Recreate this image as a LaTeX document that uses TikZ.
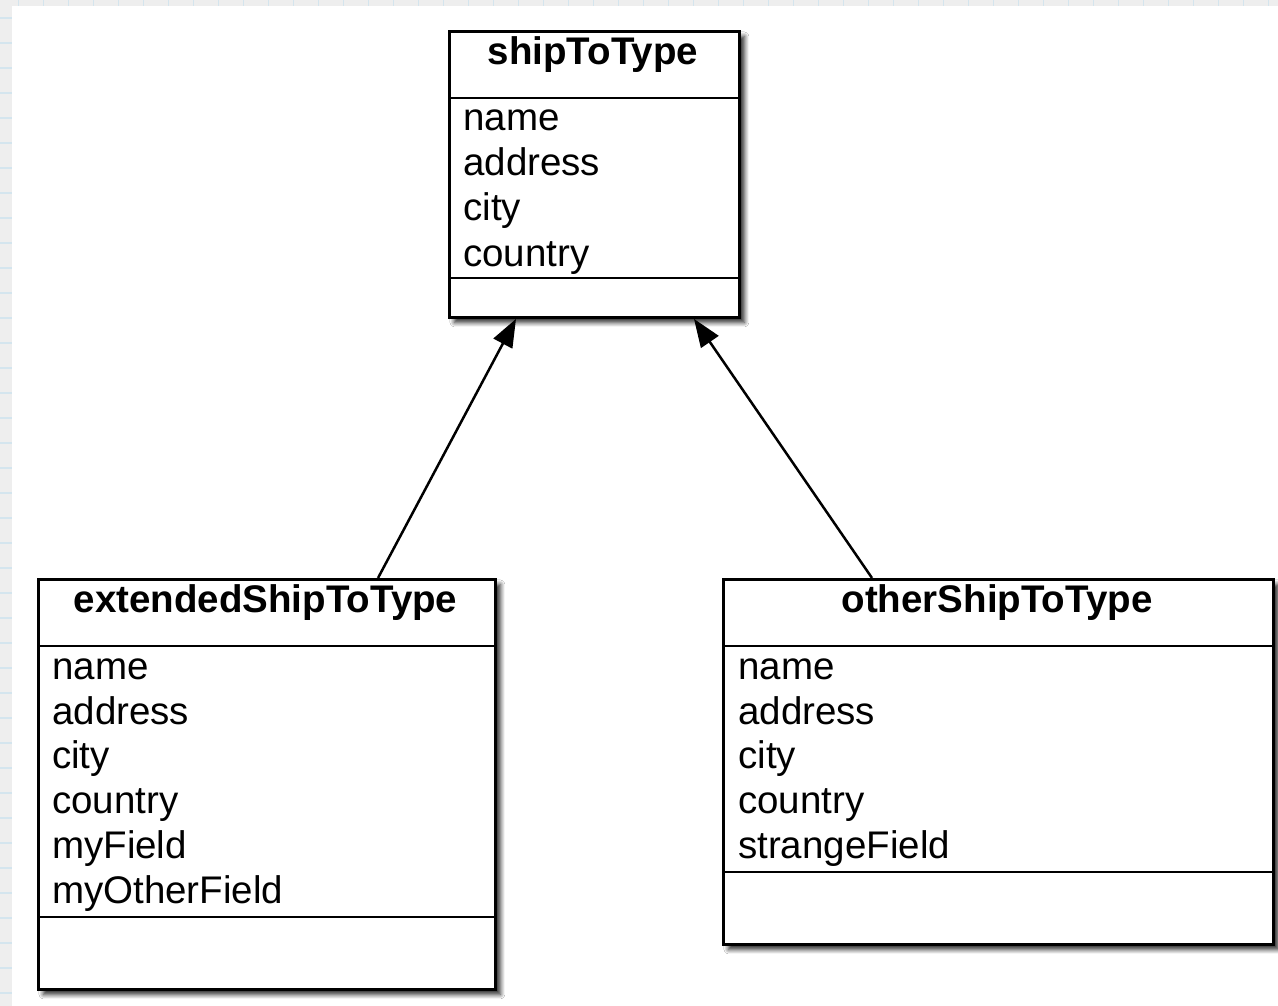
\documentclass[tikz,border=0pt]{standalone}
\usepackage{fontspec}
\setmainfont{Liberation Sans}
\usetikzlibrary{arrows.meta,shadows.blur}
\definecolor{pagebg}{HTML}{EEEEEE}
\definecolor{gridline}{HTML}{D4E5EE}

\begin{document}
\begin{tikzpicture}[x=1pt,y=-1pt,
  classbox/.style={draw=black,line width=2.9pt,fill=white,rectangle,inner sep=0pt,
    anchor=north west,
    blur shadow={shadow xshift=5pt,shadow yshift=-5pt,shadow blur radius=4.5pt,
      shadow blur steps=8,shadow opacity=85}},
  divider/.style={line width=2.3pt},
  classname/.style={font=\fontsize{38.5}{45}\selectfont\bfseries,anchor=base,inner sep=0pt},
  field/.style={font=\fontsize{38.5}{45}\selectfont,anchor=base west,inner sep=0pt},
  inherit/.style={line width=2.5pt,-{Triangle[length=28pt,width=21pt]}}]

% canvas with ruler strips along the top and left edges
\useasboundingbox (0,0) rectangle (1278,1006);
\fill[pagebg] (0,0) rectangle (1278,1006);
\foreach \x in {18.5,43.5,...,1278} \draw[gridline,line width=1.6pt] (\x,0) -- (\x,6);
\foreach \y in {18,43,...,1006} \draw[gridline,line width=1.6pt] (0,\y) -- (12,\y);
\fill[white] (12,6) rectangle (1278,1006);

% ---- shipToType ----
\node[classbox,minimum width=290pt,minimum height=286pt] (ship) at (448,30) {};
\draw[divider] ([yshift=-68pt]ship.north west) -- ([yshift=-68pt]ship.north east);
\draw[divider] ([yshift=-248pt]ship.north west) -- ([yshift=-248pt]ship.north east);
\node[classname] (ship-t) at (593,65) {shipToType};
\node[field] (ship-f1) at (463,131) {name};
\node[field] (ship-f2) at (463,176) {address};
\node[field] (ship-f3) at (463,221) {city};
\node[field] (ship-f4) at (463,266) {country};

% ---- extendedShipToType ----
\node[classbox,minimum width=457pt,minimum height=410pt] (ext) at (37,578) {};
\draw[divider] ([yshift=-68pt]ext.north west) -- ([yshift=-68pt]ext.north east);
\draw[divider] ([yshift=-339pt]ext.north west) -- ([yshift=-339pt]ext.north east);
\node[classname] (ext-t) at (265.5,612) {extendedShipToType};
\node[field] (ext-f1) at (52,679) {name};
\node[field] (ext-f2) at (52,724) {address};
\node[field] (ext-f3) at (52,768) {city};
\node[field] (ext-f4) at (52,813) {country};
\node[field] (ext-f5) at (52,858) {myField};
\node[field] (ext-f6) at (52,903) {myOtherField};

% ---- otherShipToType ----
\node[classbox,minimum width=550pt,minimum height=365pt] (other) at (722,578) {};
\draw[divider] ([yshift=-68pt]other.north west) -- ([yshift=-68pt]other.north east);
\draw[divider] ([yshift=-294pt]other.north west) -- ([yshift=-294pt]other.north east);
\node[classname] (other-t) at (997,612) {otherShipToType};
\node[field] (other-f1) at (738,679) {name};
\node[field] (other-f2) at (738,724) {address};
\node[field] (other-f3) at (738,768) {city};
\node[field] (other-f4) at (738,813) {country};
\node[field] (other-f5) at (738,858) {strangeField};

% ---- generalisation arrows ----
\draw[inherit] ([xshift=341pt]ext.north west) -- ([xshift=68pt]ship.south west);
\draw[inherit] ([xshift=150pt]other.north west) -- ([xshift=246pt]ship.south west);
\end{tikzpicture}
\end{document}
